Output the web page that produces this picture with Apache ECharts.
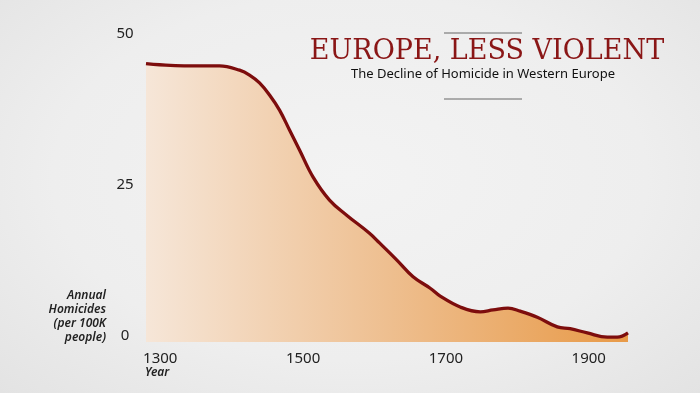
<!DOCTYPE html>
<html>
<head>
<meta charset="utf-8">
<script src="https://cdn.jsdelivr.net/npm/echarts@6/dist/echarts.min.js"></script>
<style>
html,body{margin:0;padding:0;}
body{width:700px;height:393px;background:radial-gradient(ellipse at 50% 45%, #f3f3f3 0%, #eeeeee 60%, #e3e3e3 100%);}
#c{width:700px;height:393px;}
</style>
</head>
<body>
<div id="c"></div>
<script>
const years = [1280, 1299, 1355, 1383, 1411, 1425, 1439, 1453, 1467, 1481, 1495, 1514, 1537, 1561, 1593, 1607, 1631, 1654, 1678, 1692, 1720, 1748, 1766, 1787, 1804, 1828, 1856, 1874, 1898, 1926, 1940, 1955];
const homicides = [46.1, 45.9, 45.7, 45.7, 45.0, 44.2, 42.9, 40.9, 38.4, 35.1, 31.8, 27.3, 23.5, 21.0, 18.0, 16.4, 13.6, 10.8, 8.9, 7.6, 5.8, 5.0, 5.3, 5.6, 5.1, 4.1, 2.5, 2.2, 1.5, 0.8, 0.8, 1.5];
const xTicks = [1300, 1500, 1700, 1900];
const yTicks = [0, 25, 50];
const titleText = 'EUROPE, LESS VIOLENT';
const subtitleText = 'The Decline of Homicide in Western Europe';
const yName = ['Annual', 'Homicides', '(per 100K', 'people)'];
const xName = 'Year';

const chart = echarts.init(document.getElementById('c'));
const labelFont = '"Noto Sans", Lato, sans-serif';
chart.setOption({
  backgroundColor: 'transparent',
  animation: false,
  grid: {left: 146, right: 72, top: 40, bottom: 51},
  xAxis: {
    type: 'value', min: 1280, max: 1955,
    axisLine: {show: false}, axisTick: {show: false}, splitLine: {show: false},
    axisLabel: {customValues: xTicks, formatter: v => String(v), margin: 9, color: '#222', fontSize: 15, fontFamily: labelFont}
  },
  yAxis: {
    type: 'value', min: 0, max: 50,
    axisLine: {show: false}, axisTick: {show: false}, splitLine: {show: false},
    axisLabel: {customValues: yTicks, formatter: v => String(v), margin: 21, align: 'center', verticalAlign: 'bottom', lineHeight: 12, color: '#222', fontSize: 15, fontFamily: labelFont}
  },
  series: [{
    type: 'line',
    data: years.map((y, i) => [y, homicides[i]]),
    smooth: 0.4,
    symbol: 'none',
    lineStyle: {color: '#7d0d0d', width: 3.3},
    areaStyle: {
      opacity: 1,
      color: new echarts.graphic.LinearGradient(0, 0, 1, 0, [
        {offset: 0, color: '#f6e6d8'},
        {offset: 0.5, color: '#eebf90'},
        {offset: 1, color: '#e89a48'}
      ])
    }
  }],
  graphic: [
    {type: 'line', shape: {x1: 444, y1: 33, x2: 522, y2: 33}, style: {stroke: '#666', lineWidth: 1}},
    {type: 'line', shape: {x1: 444, y1: 99, x2: 522, y2: 99}, style: {stroke: '#666', lineWidth: 1}},
    {type: 'text', x: 487, y: 52, style: {text: titleText, fill: '#8a1616', font: '27px "DejaVu Serif", serif', textAlign: 'center', textVerticalAlign: 'middle'}},
    {type: 'text', x: 483, y: 74, style: {text: subtitleText, fill: '#111', font: '13px "Noto Sans", sans-serif', textAlign: 'center', textVerticalAlign: 'middle'}},
    {type: 'text', x: 106, y: 289, style: {text: yName.join('\n'), fill: '#222', font: 'italic 600 12px "Noto Sans", sans-serif', textAlign: 'right', lineHeight: 14}},
    {type: 'text', x: 145, y: 367, style: {text: xName, fill: '#222', font: 'italic 600 12px "Noto Sans", sans-serif', textAlign: 'left'}}
  ]
});
</script>
</body>
</html>
